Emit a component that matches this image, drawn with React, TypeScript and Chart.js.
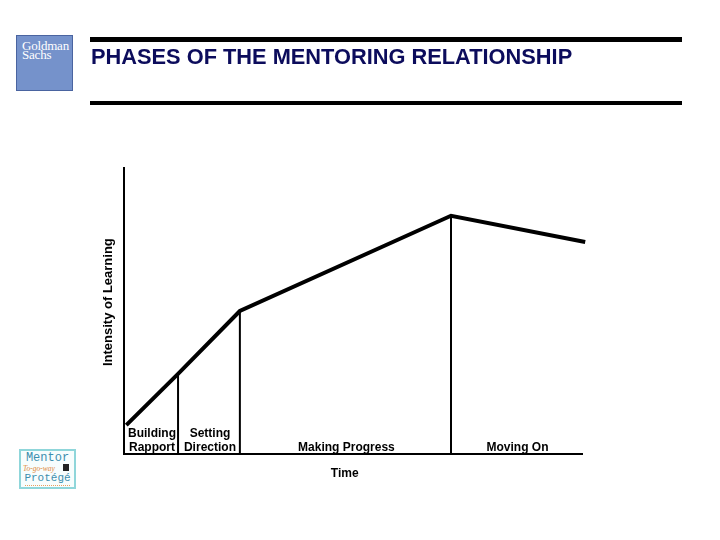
import React, { useEffect, useRef } from "react";
import { Chart, registerables } from "chart.js";

Chart.register(...registerables);

// ---- data ----
const slideTitle = "PHASES OF THE MENTORING RELATIONSHIP";
const xAxisTitle = "Time";
const yAxisTitle = "Intensity of Learning";
// time at each turning point of the curve (start, phase ends, end)
const phaseTimes = [0.5, 11.8, 25.3, 71.4, 100.7];
// intensity of learning at those points
const intensity = [10.1, 28, 50, 83.3, 74.1];
const phaseLabels = [
  ["Building", "Rapport"],
  ["Setting", "Direction"],
  ["Making Progress"],
  ["Moving On"],
];

const FONT = "'Liberation Sans', Arial, sans-serif";

const labelPlugin = {
  id: "phaseLabels",
  afterDraw(chart: any) {
    const { ctx, chartArea, scales } = chart;
    const xs = scales.x;
    const bounds = [xs.min, phaseTimes[1], phaseTimes[2], phaseTimes[3], xs.max];
    ctx.save();
    ctx.fillStyle = "#000";
    ctx.textAlign = "center";
    ctx.textBaseline = "middle";
    ctx.font = `bold 12px ${FONT}`;
    phaseLabels.forEach((lines, i) => {
      const cx = (xs.getPixelForValue(bounds[i]) + xs.getPixelForValue(bounds[i + 1])) / 2 + 1;
      lines.forEach((t, j) => {
        const y = chartArea.bottom - 6 - (lines.length - 1 - j) * 14;
        ctx.fillText(t, cx, y);
      });
    });
    // x title
    ctx.fillText(xAxisTitle, chartArea.left + (chartArea.right - chartArea.left) * 0.482, chartArea.bottom + 20);
    // y title
    ctx.font = `bold 13px ${FONT}`;
    ctx.translate(chartArea.left - 16, chartArea.top + (chartArea.bottom - chartArea.top) * 0.469);
    ctx.rotate(-Math.PI / 2);
    ctx.fillText(yAxisTitle, 0, 0);
    ctx.restore();
  },
};

export default function App() {
  const ref = useRef<HTMLCanvasElement>(null);

  useEffect(() => {
    if (!ref.current) return;
    const curve = phaseTimes.map((t, i) => ({ x: t, y: intensity[i] }));
    const dividers = [1, 2, 3].map((i) => ({
      data: [
        { x: phaseTimes[i], y: 0 },
        { x: phaseTimes[i], y: intensity[i] },
      ],
      borderColor: "#000",
      borderWidth: 2,
      pointRadius: 0,
      fill: false,
      clip: false as any,
    }));
    const chart = new Chart(ref.current, {
      type: "line",
      data: {
        datasets: [
          ...dividers,
          {
            data: curve,
            borderColor: "#000",
            borderWidth: 4,
            pointRadius: 0,
            tension: 0,
            fill: false,
            clip: false as any,
          },
        ],
      },
      options: {
        responsive: false,
        animation: false,
        layout: { padding: { left: 124, right: 138, top: 168, bottom: 86 } },
        plugins: { legend: { display: false }, tooltip: { enabled: false }, title: { display: false } },
        scales: {
          x: {
            type: "linear",
            min: 0,
            max: 100,
            grid: { display: false, drawTicks: false },
            ticks: { display: false },
            border: { display: true, color: "#000", width: 2 },
          },
          y: {
            type: "linear",
            min: 0,
            max: 100,
            grid: { display: false, drawTicks: false },
            ticks: { display: false },
            border: { display: true, color: "#000", width: 2 },
          },
        },
      },
      plugins: [labelPlugin],
    });
    return () => chart.destroy();
  }, []);

  return (
    <div style={{ position: "absolute", left: 0, top: 0, width: 720, height: 540, background: "#fff", overflow: "hidden" }}>
      <canvas ref={ref} width={720} height={540} style={{ position: "absolute", left: 0, top: 0 }} />
      {/* Goldman Sachs logo */}
      <div
        style={{
          position: "absolute",
          left: 16,
          top: 35,
          width: 57,
          height: 56,
          background: "#7592cb",
          border: "1px solid #4a64a0",
          color: "#fff",
          fontFamily: "'Liberation Serif', serif",
          fontSize: 13,
          lineHeight: "9px",
          paddingLeft: 5,
          paddingTop: 5,
          boxSizing: "border-box",
          letterSpacing: -0.2,
        }}
      >
        <div>Goldman</div>
        <div>Sachs</div>
      </div>
      {/* top rules */}
      <div style={{ position: "absolute", left: 90, top: 37, width: 592, height: 5, background: "#000" }} />
      <div style={{ position: "absolute", left: 90, top: 101, width: 592, height: 4, background: "#000" }} />
      <div
        style={{
          position: "absolute",
          left: 91,
          top: 44,
          fontFamily: FONT,
          fontWeight: "bold",
          fontSize: 21.8,
          lineHeight: "26px",
          color: "#0c0c5c",
          whiteSpace: "nowrap",
        }}
      >
        {slideTitle}
      </div>
      {/* Mentor Protege logo */}
      <div
        style={{
          position: "absolute",
          left: 19,
          top: 449,
          width: 57,
          height: 40,
          border: "2px solid #8fd6da",
          background: "#f7fdfd",
          boxSizing: "border-box",
          fontFamily: "'Liberation Mono', monospace",
          color: "#3d8fae",
          textAlign: "center",
        }}
      >
        <div style={{ fontSize: 12, lineHeight: "11px", marginTop: 2 }}>Mentor</div>
        <div style={{ fontSize: 7.5, lineHeight: "9px", color: "#e08a3c", fontStyle: "italic", textAlign: "left", paddingLeft: 2, position: "relative", fontFamily: "'Liberation Serif', serif" }}>
          To-go-way
          <span style={{ position: "absolute", left: 42, top: 0, width: 6, height: 7, background: "#222" }} />
        </div>
        <div style={{ fontSize: 11, lineHeight: "10px" }}>Protégé</div>
        <div style={{ margin: "2px 4px 0", borderTop: "1px dotted #e8a060" }} />
      </div>
    </div>
  );
}
